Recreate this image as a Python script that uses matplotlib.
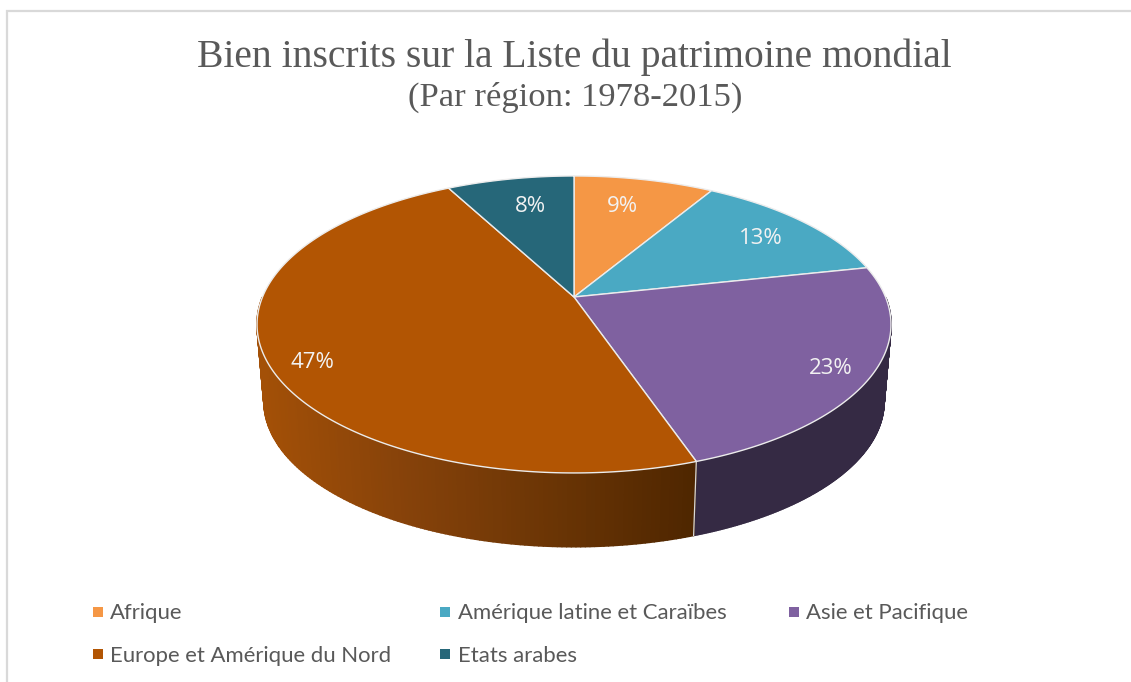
import numpy as np
import matplotlib
matplotlib.use("Agg")
import matplotlib.pyplot as plt
from matplotlib.collections import PolyCollection
from matplotlib.colors import LinearSegmentedColormap, Normalize
from matplotlib.patches import Polygon

# Data
regions = ["Afrique", "Amérique latine et Caraïbes", "Asie et Pacifique",
           "Europe et Amérique du Nord", "Etats arabes"]
shares = [8.55, 13.05, 23.15, 47.49, 7.76]
title_text = "Bien inscrits sur la Liste du patrimoine mondial"
subtitle_text = "(Par région: 1978-2015)"

# Style
top_colours = ["#F59745", "#4AA9C3", "#7F61A0", "#B25503", "#266779"]
side_colours = ["#8F5728", "#2B6272", "#352A44", None, "#163C46"]
label_xy = [(622, 206), (761, 239), (831, 369), (312, 363), (530, 206)]
legend_xy = [(97.5, 611.5), (445, 611.5), (794, 611.5), (97.5, 654), (445, 654)]

# Perspective of the pie disc, in pixels of the picture
CX, CY = 574, 297
A, B, K = 311.5, 143.4, 0.185
SHRINK, DEPTH = 0.978, 77
MID_Y = 325


def disc_xy(theta):
    """Point on the top rim; theta runs clockwise from 12 o'clock."""
    u, v = np.sin(theta), np.cos(theta)
    w = 1 + K * v
    return CX + A * u / w, CY - B * v / w


def floor_xy(theta):
    """Same point on the bottom rim of the pie."""
    x, y = disc_xy(theta)
    return CX + SHRINK * (x - CX), MID_Y + SHRINK * (y - MID_Y) + DEPTH


fig = plt.figure(figsize=(11.31, 6.82), dpi=100, facecolor="white")
ax = fig.add_axes([0, 0, 1, 1])
ax.axis("off")

# chart frame, only top and left are in the crop
ax.plot([7, 7, 1131], [682, 11, 11], color="#D9D9D9", lw=1.6, solid_joinstyle="miter")

edges = 2 * np.pi * np.concatenate([[0], np.cumsum(shares)]) / np.sum(shares)

side_cmap = LinearSegmentedColormap.from_list(
    "side", ["#A35007", "#86420A", "#6B3505", "#4E2600"])
side_norm = Normalize(258, 697)

# side walls first as small quads, top faces go over them
for i in range(len(shares)):
    t = np.linspace(edges[i], edges[i + 1], 240)
    t = t[np.cos(t) < 0]  # back half of the wall is hidden
    if len(t) < 2:
        continue
    xt, yt = disc_xy(t)
    xb, yb = floor_xy(t)
    quads = [[(xt[j], yt[j]), (xt[j + 1], yt[j + 1]), (xb[j + 1], yb[j + 1]), (xb[j], yb[j])]
             for j in range(len(t) - 1)]
    if side_colours[i] is None:
        fc = side_cmap(side_norm((xt[:-1] + xt[1:]) / 2))
    else:
        fc = side_colours[i]
    # thick stroke so no seams show between the quads
    ax.add_collection(PolyCollection(quads, facecolors=fc, edgecolors="face",
                                     linewidths=1.2, zorder=2))

# thin line where the two front walls meet
x0, y0 = disc_xy(edges[3])
x1, y1 = floor_xy(edges[3])
ax.plot([x0, x1], [y0, y1], color="#D8D8D8", lw=0.9, zorder=3)

for i in range(len(shares)):
    t = np.linspace(edges[i], edges[i + 1], 200)
    xt, yt = disc_xy(t)
    pts = np.r_[[[CX, CY]], np.c_[xt, yt]]
    ax.add_patch(Polygon(pts, closed=True, fc=top_colours[i], ec="#ECECEC",
                         lw=1.0, joinstyle="round", zorder=4))
    ax.text(label_xy[i][0], label_xy[i][1], f"{shares[i]:.0f}%", color="#F2F2F2",
            fontsize=16, family="Open Sans", ha="center", va="center", zorder=5)

ax.set_xlim(0, 1131)
ax.set_ylim(682, 0)

ax.text(574.5, 57, title_text, fontsize=28.5, family="Liberation Serif", color="#595959",
        ha="center", va="center")
ax.text(575, 97, subtitle_text, fontsize=24.8, family="Liberation Serif", color="#595959",
        ha="center", va="center")

# legend by hand: Excel's columns are not evenly sized
for i, name in enumerate(regions):
    lx, ly = legend_xy[i]
    ax.scatter([lx], [ly], marker="s", s=48, color=top_colours[i], linewidths=0)
    ax.text(lx + 12.5, ly + 1.5, name, fontsize=15.9, family="Lato", color="#595959",
            ha="left", va="center")

fig.savefig("out.png", dpi=100)
